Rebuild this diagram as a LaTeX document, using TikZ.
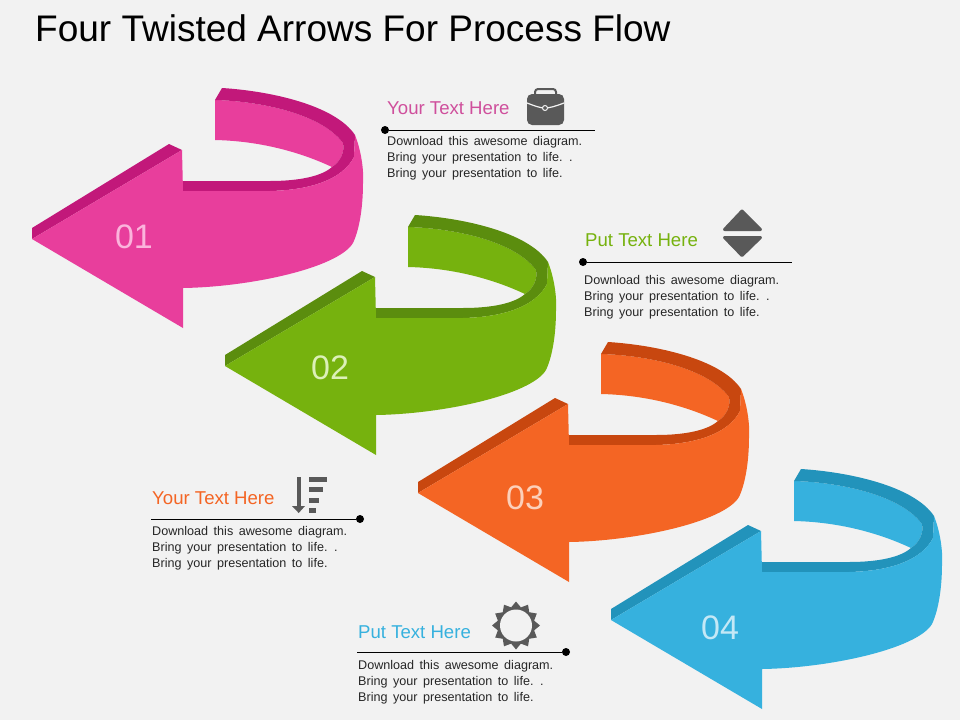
\documentclass[tikz,border=0pt]{standalone}
\usepackage{fontspec}
\setmainfont{Liberation Sans}
\newfontfamily\bodyfam[WordSpace=1.57]{Liberation Sans}
\usetikzlibrary{shapes.geometric}
\definecolor{bgc}{HTML}{F2F2F2}
\definecolor{pinkA}{HTML}{E83E9C}\definecolor{pinkB}{HTML}{C2187A}\definecolor{pinkT}{HTML}{CF4F9C}\definecolor{pinkN}{HTML}{FBB4DC}
\definecolor{greenA}{HTML}{76B20E}\definecolor{greenB}{HTML}{5B8D0E}\definecolor{greenN}{HTML}{DCF0B8}
\definecolor{orangeA}{HTML}{F46524}\definecolor{orangeB}{HTML}{C8470F}\definecolor{orangeN}{HTML}{FCD0BA}
\definecolor{blueA}{HTML}{36B1DE}\definecolor{blueB}{HTML}{2293BB}\definecolor{blueN}{HTML}{C4E8F6}
\definecolor{icong}{HTML}{595959}
\tikzset{
  headtxt/.style={anchor=base west,inner sep=0pt,font=\fontsize{18.6}{18.6}\selectfont},
  bodytxt/.style={anchor=base west,inner sep=0pt,text=black!85,font=\bodyfam\fontsize{12.6}{12.6}\selectfont},
  numtxt/.style={inner sep=0pt,font=\fontsize{34}{34}\selectfont},
  dotn/.style={circle,fill=black,inner sep=0pt,minimum size=8pt},
  rule/.style={black,line width=1pt},
  icon/.style={fill=icong,draw=none}
}
\newcommand{\twistarrow}[3]{%
 \begin{scope}[shift={#1}]
  % back face
  \fill[#2] (215,100) .. controls (255,101) and (320,112) .. (343,143)
     .. controls (345,152) and (340,162) .. (332,167)
     .. controls (300,152) and (260,141) .. (215,140) -- cycle;
  % dark band of the ribbon
  \fill[#3] (215,100) -- (222,88) .. controls (270,91) and (335,105) .. (355,135)
     -- (354,157) .. controls (342,180) and (310,190) .. (270,191)
     -- (183,191) -- (182,181) -- (270,181)
     .. controls (300,181) and (322,176) .. (332,167)
     .. controls (340,162) and (345,152) .. (343,143)
     .. controls (320,112) and (255,101) .. (215,100) -- cycle;
  % dark top edge of the head
  \fill[#3] (32,239) -- (32,228) -- (169,144) -- (182,150) -- cycle;
  % front face
  \fill[#2] (183,191) -- (270,191) .. controls (310,190) and (342,180) .. (354,157)
     -- (355,135) .. controls (361,150) and (364,170) .. (363,183)
     .. controls (363,205) and (360,228) .. (353,243)
     .. controls (338,268) and (250,287) .. (183,288)
     -- (183,328) -- (32,239) -- (182,150) -- cycle;
 \end{scope}}
\begin{document}
\begin{tikzpicture}[x=1pt,y=-1pt]
\useasboundingbox (0,0) rectangle (960,720);
\fill[bgc] (0,0) rectangle (960,720);
\node[anchor=base west,inner sep=0pt,font=\fontsize{37}{37}\selectfont] (title) at (35,41.5) {Four Twisted Arrows For Process Flow};
\twistarrow{(0,0)}{pinkA}{pinkB}
\twistarrow{(193,127)}{greenA}{greenB}
\twistarrow{(386,254)}{orangeA}{orangeB}
\twistarrow{(579,381)}{blueA}{blueB}
\node[numtxt,text=pinkN] (n1) at (134,237) {01};
\node[numtxt,text=greenN] (n2) at (330,368) {02};
\node[numtxt,text=orangeN] (n3) at (525,498) {03};
\node[numtxt,text=blueN] (n4) at (720,628) {04};
% block 1
\node[headtxt,text=pinkT] (h1) at (387,114.5) {Your Text Here};
\node[dotn] (d1) at (385,130) {};
\coordinate (e1) at (595,130);
\draw[rule] (d1) -- (e1);
\node[bodytxt] (b1a) at (387,145) {Download this awesome diagram.};
\node[bodytxt] (b1b) at (387,161) {Bring your presentation to life. .};
\node[bodytxt] (b1c) at (387,177) {Bring your presentation to life.};
% block 2
\node[headtxt,text=greenA] (h2) at (585,246.5) {Put Text Here};
\node[dotn] (d2) at (583,262) {};
\coordinate (e2) at (792,262);
\draw[rule] (d2) -- (e2);
\node[bodytxt] (b2a) at (584,284) {Download this awesome diagram.};
\node[bodytxt] (b2b) at (584,300) {Bring your presentation to life. .};
\node[bodytxt] (b2c) at (584,316) {Bring your presentation to life.};
% block 3
\node[headtxt,text=orangeA] (h3) at (152,504.5) {Your Text Here};
\node[dotn] (d3) at (360,519) {};
\coordinate (e3) at (151,519);
\draw[rule] (d3) -- (e3);
\node[bodytxt] (b3a) at (152,535) {Download this awesome diagram.};
\node[bodytxt] (b3b) at (152,551) {Bring your presentation to life. .};
\node[bodytxt] (b3c) at (152,567) {Bring your presentation to life.};
% block 4
\node[headtxt,text=blueA] (h4) at (358,638.5) {Put Text Here};
\node[dotn] (d4) at (566,652) {};
\coordinate (e4) at (357,652);
\draw[rule] (d4) -- (e4);
\node[bodytxt] (b4a) at (358,669) {Download this awesome diagram.};
\node[bodytxt] (b4b) at (358,685) {Bring your presentation to life. .};
\node[bodytxt] (b4c) at (358,701) {Bring your presentation to life.};
% briefcase
\draw[icong,line width=2pt,rounded corners=3pt] (535,96) -- (535,89) -- (556,89) -- (556,96);
\fill[icon,rounded corners=5pt] (527,94) rectangle (564,125);
\draw[bgc,line width=1.2pt] (527,103) .. controls (535,106) and (540,108) .. (545,108) .. controls (550,108) and (556,106) .. (564,103);
\node[circle,draw=bgc,fill=icong,line width=1pt,inner sep=0pt,minimum size=5pt] (clasp) at (545,108) {};
% up-down
\filldraw[icong,line join=round,line width=3pt] (742,211) -- (724.5,229.5) -- (760.5,229.5) -- cycle;
\filldraw[icong,line join=round,line width=3pt] (742,255.5) -- (724.5,237.5) -- (760.5,237.5) -- cycle;
% sort
\fill[icon] (296.5,477) rectangle (301,507);
\fill[icon] (292,506) -- (305,506) -- (298.7,513) -- cycle;
\fill[icon] (309,477) rectangle (327,482);
\fill[icon] (309,487) rectangle (323,492);
\fill[icon] (309,498) rectangle (319,503);
\fill[icon] (309,508) rectangle (316,513);
% sun
\node[star,star points=12,star point ratio=1.28,fill=icong,inner sep=0pt,minimum size=48pt] (sunray) at (516,625.5) {};
\node[circle,fill=bgc,inner sep=0pt,minimum size=32pt] (suncore) at (516,625.5) {};
\end{tikzpicture}
\end{document}
